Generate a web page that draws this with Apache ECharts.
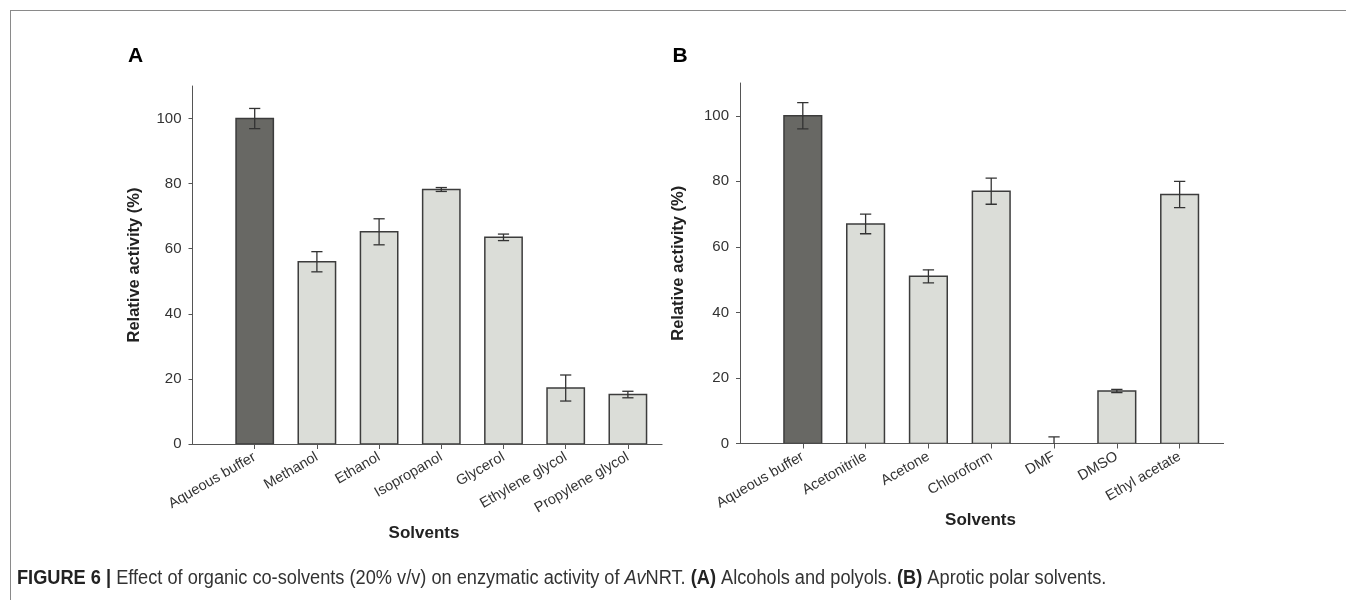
<!DOCTYPE html>
<html>
<head>
<meta charset="utf-8">
<script src="https://cdn.jsdelivr.net/npm/echarts@6/dist/echarts.min.js"></script>
<style>
html,body{margin:0;padding:0;background:#fff;}
#chart{width:1346px;height:608px;}
</style>
</head>
<body>
<div id="chart"></div>
<script>
// ---- data ----
const catsA = ['Aqueous buffer','Methanol','Ethanol','Isopropanol','Glycerol','Ethylene glycol','Propylene glycol'];
const valsA = [100, 56, 65.2, 78.2, 63.5, 17.2, 15.2];
const errsA = [3.1, 3.1, 4, 0.6, 1, 4, 1];
const catsB = ['Aqueous buffer','Acetonitrile','Acetone','Chloroform','DMF','DMSO','Ethyl acetate'];
const valsB = [100, 67, 51, 77, 0, 16, 76];
const errsB = [4, 3, 2, 4, 2, 0.5, 4];
const yTicks = [0, 20, 40, 60, 80, 100];
const xPositions = [0, 1, 2, 3, 4, 5, 6];

const DARK = '#686864', LIGHT = '#dbddd8', EDGE = '#3c3c3c', ERR = '#333333';
const FONT = '"Liberation Sans", Arial, sans-serif';

function buildData(vals, errs){
  return vals.map((v,i)=>[i, v, errs[i]]);
}

function renderBar(params, api){
  const x = api.value(0), v = api.value(1), e = api.value(2);
  const bw = api.size([0.6, 0])[0];
  const cw = api.size([0.18, 0])[0];
  const children = [];
  if (v > 0) {
    const top = api.coord([x, v]);
    const base = api.coord([x, 0]);
    children.push({
      type:'rect',
      shape:{x: top[0]-bw/2, y: top[1], width: bw, height: base[1]-top[1]},
      style:{fill: params.dataIndex===0 ? DARK : LIGHT, stroke: EDGE, lineWidth: 1.5}
    });
  }
  const hi = api.coord([x, v+e]);
  const lo = api.coord([x, v-e]);
  children.push({type:'line', shape:{x1:hi[0], y1:hi[1], x2:lo[0], y2:lo[1]}, style:{stroke:ERR, lineWidth:1.3}});
  children.push({type:'line', shape:{x1:hi[0]-cw/2, y1:hi[1], x2:hi[0]+cw/2, y2:hi[1]}, style:{stroke:ERR, lineWidth:1.3}});
  children.push({type:'line', shape:{x1:lo[0]-cw/2, y1:lo[1], x2:lo[0]+cw/2, y2:lo[1]}, style:{stroke:ERR, lineWidth:1.3}});
  return {type:'group', children};
}

function xAxisDef(idx, cats, max){
  return {
    type:'value', gridIndex: idx, min:-1, max:max, interval:1,
    splitLine:{show:false},
    axisLine:{show:true, onZero:false, lineStyle:{color:'#555', width:1}},
    axisTick:{show:true, customValues: xPositions, length:5, lineStyle:{color:'#555'}},
    axisLabel:{customValues: xPositions, rotate:30, margin:12, fontSize:14.5, color:'#333', fontFamily:FONT,
      formatter: v => cats[v]}
  };
}
function yAxisDef(idx, gap){
  return {
    type:'value', gridIndex: idx, min:0, max:110, interval:20,
    name:'Relative activity (%)', nameLocation:'middle', nameGap:gap,
    nameTextStyle:{fontSize:16.5, fontWeight:'bold', color:'#222', fontFamily:FONT},
    splitLine:{show:false},
    axisLine:{show:true, onZero:false, lineStyle:{color:'#555', width:1}},
    axisTick:{show:true, customValues: yTicks, length:4, lineStyle:{color:'#555'}},
    axisLabel:{customValues: yTicks, margin:11, fontSize:15, color:'#333', fontFamily:FONT}
  };
}

const chart = echarts.init(document.getElementById('chart'));
chart.setOption({
  animation:false,
  backgroundColor:'#fff',
  grid:[
    {left:192.5, top:86, width:469.6, height:358},
    {left:740, top:83, width:483.6, height:360.5}
  ],
  xAxis:[xAxisDef(0, catsA, 6.55), xAxisDef(1, catsB, 6.7)],
  yAxis:[yAxisDef(0, 50), yAxisDef(1, 53)],
  series:[
    {type:'custom', xAxisIndex:0, yAxisIndex:0, clip:true, renderItem:renderBar, data: buildData(valsA, errsA)},
    {type:'custom', xAxisIndex:1, yAxisIndex:1, clip:true, renderItem:renderBar, data: buildData(valsB, errsB)}
  ],
  graphic:[
    {type:'line', shape:{x1:10, y1:10.5, x2:1346, y2:10.5}, style:{stroke:'#8a8a8a', lineWidth:1}},
    {type:'line', shape:{x1:10.5, y1:10, x2:10.5, y2:600}, style:{stroke:'#8a8a8a', lineWidth:1}},
    {type:'text', x:135.5, y:56, style:{text:'A', font:'bold 21px '+FONT, fill:'#000', align:'center', verticalAlign:'middle'}},
    {type:'text', x:680, y:56, style:{text:'B', font:'bold 21px '+FONT, fill:'#000', align:'center', verticalAlign:'middle'}},
    {type:'text', x:424, y:533, style:{text:'Solvents', font:'bold 17px '+FONT, fill:'#222', align:'center', verticalAlign:'middle'}},
    {type:'text', x:980.5, y:520, style:{text:'Solvents', font:'bold 17px '+FONT, fill:'#222', align:'center', verticalAlign:'middle'}},
    {type:'text', x:17, y:578, scaleX:0.91, style:{
      text:'{b|FIGURE 6 |} Effect of organic co-solvents (20% v/v) on enzymatic activity of {i|Av}NRT. {b|(A)} Alcohols and polyols. {b|(B)} Aprotic polar solvents.',
      font:'20px '+FONT, fill:'#333', verticalAlign:'middle',
      rich:{
        b:{fontWeight:'bold', fontSize:20, fontFamily:FONT, fill:'#222'},
        i:{fontStyle:'italic', fontSize:20, fontFamily:FONT, fill:'#333'}
      }
    }}
  ]
});
</script>
</body>
</html>
